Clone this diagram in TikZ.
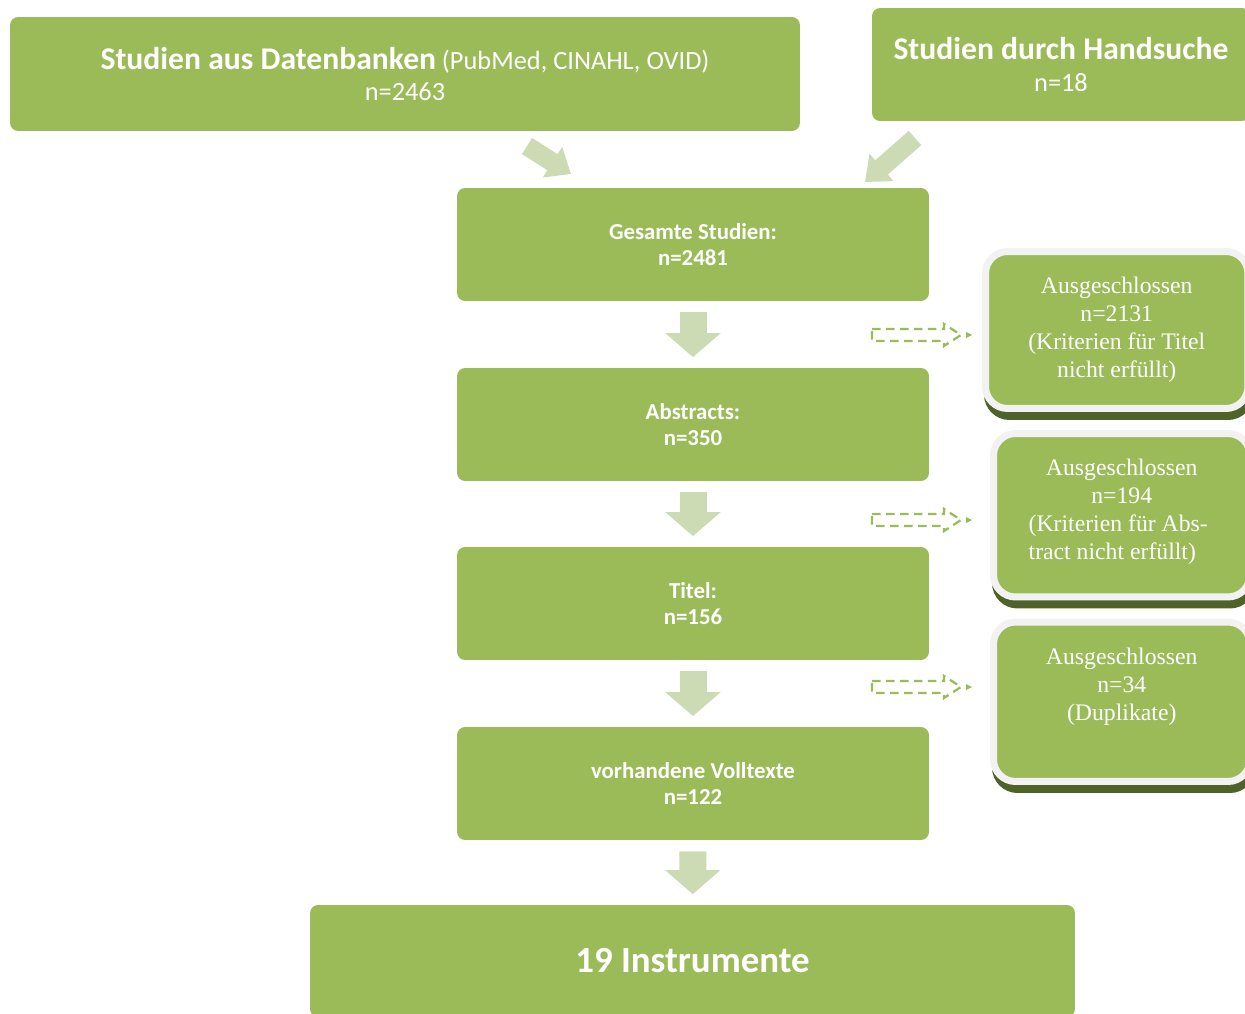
\documentclass[tikz,border=0pt]{standalone}
\usepackage{fontspec}
\setmainfont{Carlito}
\newfontfamily\exclfont{Liberation Serif}
\usetikzlibrary{arrows.meta}
\definecolor{boxgreen}{HTML}{9BBB59}
\definecolor{arrowgreen}{HTML}{CDDBB5}
\definecolor{shadowgreen}{HTML}{4F6228}
\definecolor{framegray}{HTML}{F2F2F2}
\tikzset{>=Triangle}
\tikzset{
  flowbox/.style={fill=boxgreen, rounded corners=0.16cm, text=white, align=center, inner sep=0pt},
  exclbox/.style={fill=boxgreen, draw=framegray, line width=0.14cm, rounded corners=0.44cm,
    text=white, inner sep=0pt,
    preaction={draw=shadowgreen, fill=shadowgreen, transform canvas={xshift=0.04cm, yshift=-0.16cm}}},
  downarrow/.style={draw=arrowgreen, line width=0.54cm, -{Triangle[width=1.08cm,length=0.48cm]},
    shorten <=0.22cm, shorten >=0.21cm},
  diagarrow/.style={draw=arrowgreen, line width=0.38cm, -{Triangle[width=0.7cm,length=0.44cm]}},
  dashout/.style={draw=boxgreen, line width=0.045cm, dash pattern=on 0.17cm off 0.11cm, line join=miter}
}
\newcommand{\exclText}[2]{\parbox[c][#1][t]{4.8cm}{\centering\exclfont\fontsize{13.5}{15.9}\selectfont
  \vspace*{0.52cm}#2}}

\begin{document}
\begin{tikzpicture}[x=0.02cm, y=-0.02cm]
\useasboundingbox (0,0) rectangle (1245,1014);

% sources
\node[flowbox, minimum width=15.8cm, minimum height=2.28cm, font=\fontsize{15}{18.2}\selectfont] (db) at (405,74)
  {{\fontsize{18}{18.2}\selectfont\bfseries Studien aus Datenbanken} (PubMed, CINAHL, OVID)\\n=2463};
\node[flowbox, minimum width=7.56cm, minimum height=2.26cm, font=\fontsize{15}{18.2}\selectfont] (hand) at (1061,64.5)
  {{\fontsize{18}{18.2}\selectfont\bfseries Studien durch Handsuche}\\n=18};

% flow
\node[flowbox, minimum width=9.44cm, minimum height=2.26cm, font=\fontsize{13}{14.8}\selectfont\bfseries] (gesamt) at (693,244.5)
  {Gesamte Studien:\\n=2481};
\node[flowbox, minimum width=9.44cm, minimum height=2.26cm, font=\fontsize{13}{14.8}\selectfont\bfseries] (abstracts) at (693,424.5)
  {Abstracts:\\n=350};
\node[flowbox, minimum width=9.44cm, minimum height=2.26cm, font=\fontsize{13}{14.8}\selectfont\bfseries] (titel) at (693,603.5)
  {Titel:\\n=156};
\node[flowbox, minimum width=9.44cm, minimum height=2.26cm, font=\fontsize{13}{14.8}\selectfont\bfseries] (voll) at (693,783.5)
  {vorhandene Volltexte\\n=122};
\node[flowbox, minimum width=15.3cm, minimum height=2.24cm, font=\fontsize{21}{24}\selectfont\bfseries] (instr) at (692.5,961)
  {19 Instrumente};

% excluded
\node[exclbox, minimum width=5.25cm, minimum height=3.14cm] (ex1) at (1116.75,330)
  {\exclText{3.14cm}{Ausgeschlossen\\n=2131\\(Kriterien für Titel\\nicht erfüllt)}};
\node[exclbox, minimum width=5.13cm, minimum height=3.27cm] (ex2) at (1121.75,515.25)
  {\exclText{3.27cm}{Ausgeschlossen\\n=194\\\hspace*{-0.14cm}\begin{tabular}[t]{@{}l@{}}(Kriterien für Abs-\\tract nicht erfüllt)\end{tabular}}};
\node[exclbox, minimum width=5.13cm, minimum height=3.19cm] (ex3) at (1121.75,701.75)
  {\exclText{3.19cm}{Ausgeschlossen\\n=34\\(Duplikate)}};

% arrows
\coordinate (dbtail) at (527,146);
\coordinate (dbtip) at (571,174);
\coordinate (handtail) at (915,138);
\coordinate (handtip) at (865,182);
\draw[diagarrow] (dbtail) -- (dbtip);
\draw[diagarrow] (handtail) -- (handtip);

\draw[downarrow] (gesamt) -- (abstracts);
\draw[downarrow] (abstracts) -- (titel);
\draw[downarrow] (titel) -- (voll);
\draw[downarrow] (voll) -- (instr);

\foreach \y in {335,520,687} {
  \begin{scope}[shift={(0,\y)}]
    \draw[dashout] (872,-6) -- (944,-6) -- (944,-11) -- (961,0) -- (944,11) -- (944,6) -- (872,6) -- cycle;
    \fill[boxgreen] (966,-3) -- (972,0) -- (966,3) -- cycle;
  \end{scope}
}
\end{tikzpicture}
\end{document}
